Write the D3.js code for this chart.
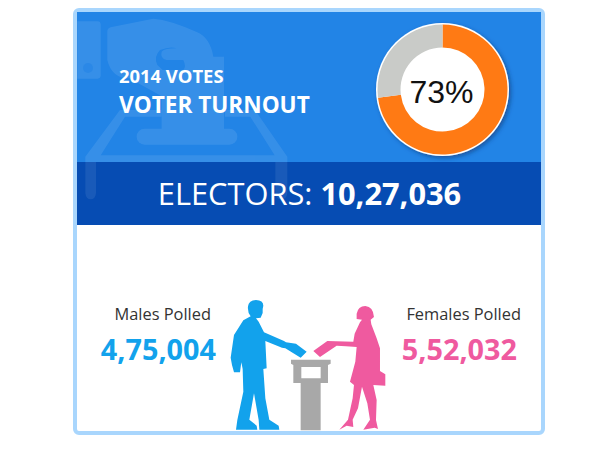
<!DOCTYPE html>
<html>
<head>
<meta charset="utf-8">
<script src="https://cdn.jsdelivr.net/npm/d3@7"></script>
<style>
  html, body { margin: 0; padding: 0; background: #fff; }
  svg { display: block; }
  text { font-family: "Open Sans", sans-serif; }
</style>
</head>
<body>
<div id="chart"></div>
<script>
const turnoutLabels = ['Voted', 'Did not vote'];
const turnoutValues = [73, 27];
const turnoutColors = ['#ff7a14', '#c9cbc8'];
const electors = 1027036;
const pollLabels = ['Males Polled', 'Females Polled'];
const pollValues = [475004, 552032];
const pollColors = ['#12a2ec', '#ef5a9f'];

const width = 600, height = 450;

// indian digit grouping: 10,27,036
const indian = d3.formatLocale({ decimal: '.', thousands: ',', grouping: [3, 2], currency: ['', ''] }).format(',d');

const svg = d3.select('#chart').append('svg')
    .attr('width', width)
    .attr('height', height);

const defs = svg.append('defs');
defs.append('clipPath').attr('id', 'band-clip')
    .append('rect').attr('x', 77).attr('y', 12).attr('width', 464).attr('height', 213);
const shadow = defs.append('filter').attr('id', 'donut-shadow')
    .attr('x', '-20%').attr('y', '-20%').attr('width', '140%').attr('height', '140%');
shadow.append('feDropShadow')
    .attr('dx', 2).attr('dy', 2).attr('stdDeviation', 2)
    .attr('flood-color', '#0a2f66').attr('flood-opacity', 0.55);

// card
svg.append('rect')
    .attr('x', 75).attr('y', 10)
    .attr('width', 468).attr('height', 423)
    .attr('rx', 4)
    .attr('fill', '#fff')
    .attr('stroke', '#a9d6fd')
    .attr('stroke-width', 4);
svg.append('rect').attr('x', 77).attr('y', 12).attr('width', 464).attr('height', 150).attr('fill', '#2284e6');

// watermark ballot box, drawn in zoom coordinates of the top left corner
const mark = svg.append('g')
    .attr('clip-path', 'url(#band-clip)')
    .append('g')
    .attr('transform', 'translate(70,0) scale(0.3333)')
    .attr('fill', '#fff')
    .attr('opacity', 0.09);
mark.append('path')
    .attr('d', 'M22,64H82Q92,64 92,74V226Q92,236 82,236H22Z');
mark.append('path')
    .attr('d', 'M122,82L250,56Q300,60 380,96Q420,112 430,170H462V400H275V210H340Q350,200 340,180H290Q270,175 275,155Q285,145 320,145Q300,138 270,150Q250,170 262,195L278,210V290L178,235Q125,235 112,180V95Q112,85 122,82Z');
mark.append('path')
    .attr('d', 'M150,330H275V350H165L92,466H614L541,350H465V330H555L652,470V486H46V470Z');
mark.append('rect').attr('x', 200).attr('y', 386).attr('width', 302).attr('height', 48).attr('rx', 24);
svg.append('rect').attr('x', 77).attr('y', 162).attr('width', 464).attr('height', 63).attr('fill', '#064cb3');
svg.append('g')
    .attr('clip-path', 'url(#band-clip)')
    .append('g')
    .attr('transform', 'translate(70,0) scale(0.3333)')
    .append('path')
    .attr('fill', '#fff')
    .attr('opacity', 0.08)
    .attr('d', 'M46,486H78V580Q76,598 62,598Q48,598 46,580ZM616,486H652V580Q650,598 634,598Q618,598 616,580Z');
svg.append('circle').attr('cx', 88).attr('cy', 68).attr('r', 5).attr('fill', '#2284e6').attr('opacity', 0.55);

// heading
svg.append('text').attr('x', 119).attr('y', 83)
    .attr('font-size', 18.4).attr('font-weight', 700).attr('fill', '#fff').text('2014 VOTES');
svg.append('text').attr('x', 119).attr('y', 112.7)
    .attr('font-size', 22.6).attr('font-weight', 700).attr('fill', '#fff').text('VOTER TURNOUT');

// donut
const pie = d3.pie().sort(null);
const arc = d3.arc().innerRadius(42).outerRadius(65);
const donut = svg.append('g').attr('transform', 'translate(442.5,89.5)');
donut.append('circle').attr('r', 66.5).attr('fill', '#fff').attr('filter', 'url(#donut-shadow)');
donut.selectAll('path')
    .data(pie(turnoutValues))
    .enter().append('path')
    .attr('d', arc)
    .attr('fill', (d, i) => turnoutColors[i])
    .attr('data-label', (d, i) => turnoutLabels[i]);
donut.append('text')
    .attr('x', -1)
    .attr('y', 13)
    .attr('text-anchor', 'middle')
    .attr('font-size', 32)
    .attr('fill', '#111')
    .style('font-family', '"Liberation Sans", sans-serif')
    .text(turnoutValues[0] + '%');

// electors strip
const electorsText = svg.append('text')
    .attr('x', 309.5).attr('y', 205)
    .attr('text-anchor', 'middle')
    .attr('font-size', 30.8)
    .attr('fill', '#fff');
electorsText.append('tspan').text('ELECTORS: ');
electorsText.append('tspan').attr('font-weight', 700).text(indian(electors));

// polled figures
const labelRight = [211, 521];
const valueRight = [216, 517];
pollLabels.forEach((label, i) => {
    svg.append('text').attr('x', labelRight[i]).attr('y', 320)
        .attr('text-anchor', 'end')
        .attr('font-size', 16.4).attr('fill', '#333').text(label);
    svg.append('text').attr('x', valueRight[i]).attr('y', 359.5)
        .attr('text-anchor', 'end')
        .attr('font-size', 28.8).attr('font-weight', 700).attr('fill', pollColors[i])
        .text(indian(pollValues[i]));
});

// voters and ballot box, drawn in zoom coordinates of the figure area
const fig = svg.append('g').attr('transform', 'translate(210,285) scale(0.3333)');
fig.append('path').attr('fill', pollColors[0])
    .attr('d', 'M114,64Q116,46 138,45Q160,46 160,62L158,72L158,84L152,98L138,100L146,110L162,142L222,168L228,172L258,176L290,200L272,218L226,190L216,188L166,168L170,250L160,252L166,340L178,404L206,422L208,434H148L146,405L132,325L118,404L140,422L142,434H78L82,405L100,320L98,252L94,232L90,262H72L66,240L62,218L72,150L100,106L122,94Q112,82 114,64Z');
fig.append('path').attr('fill', pollColors[1])
    .attr('d', 'M440,86Q444,64 466,63Q490,65 492,96L482,104L484,118L500,160L510,190V258L526,268V302L490,300L500,345L498,405L504,432L494,428L460,434L480,404L472,355L456,305L444,370L428,404L430,426L410,422L388,434L414,404L428,340L432,300L420,290L436,230L440,186L408,184L380,182L330,216L310,198L352,168L430,170L434,146L450,112L456,104L440,102Z');
fig.append('path').attr('fill', '#a8a8a8')
    .attr('fill-rule', 'evenodd')
    .attr('d', 'M243,224H362V236L354,240V294H332V436H272V294H250V240L243,236ZM274,246V280H332V246Z');
</script>
</body>
</html>
